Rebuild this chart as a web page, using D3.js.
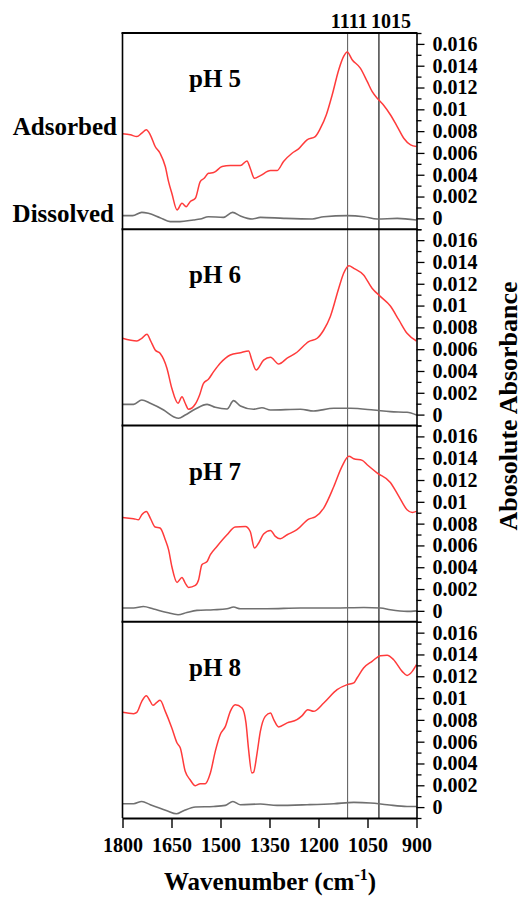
<!DOCTYPE html>
<html><head><meta charset="utf-8">
<script src="https://cdn.jsdelivr.net/npm/d3@7"></script>
<style>
body{margin:0;background:#fff}
svg{display:block}
text{font-family:"Liberation Serif","Times New Roman",serif;font-weight:bold;fill:#000}
</style>
</head><body>
<svg id="chart" width="524" height="897"></svg>
<script>
// ---------------- data ----------------
const panelLabels = ["pH 5", "pH 6", "pH 7", "pH 8"];
const seriesNames = ["Adsorbed", "Dissolved"];
const markerWavenumbers = [1111, 1015];
const xTickValues = [1800, 1650, 1500, 1350, 1200, 1050, 900];
const yTickValues = [0, 0.002, 0.004, 0.006, 0.008, 0.01, 0.012, 0.014, 0.016];
const yTickLabels = ["0", "0.002", "0.004", "0.006", "0.008", "0.01", "0.012", "0.014", "0.016"];
const yMinorTicks = [-0.001, 0.001, 0.003, 0.005, 0.007, 0.009, 0.011, 0.013, 0.015, 0.017];

// [wavenumber, absorbance]
const adsorbedPH5 = [[1800,0.00775],[1776,0.00766],[1756,0.0075],[1741,0.00781],[1727,0.00812],[1715,0.00766],[1700,0.00659],[1685,0.00597],[1669,0.00475],[1659,0.00337],[1649,0.0023],[1633,0.00077],[1618,0.00138],[1605,0.00107],[1593,0.00153],[1577,0.00184],[1562,0.00337],[1550,0.00367],[1537,0.00413],[1521,0.0042],[1495,0.00475],[1470,0.00484],[1439,0.00484],[1419,0.00527],[1409,0.00459],[1396,0.00367],[1378,0.00392],[1347,0.00438],[1327,0.00438],[1307,0.00521],[1281,0.00597],[1261,0.00637],[1235,0.0072],[1210,0.0075],[1194,0.00827],[1176,0.0095],[1158,0.01133],[1138,0.01363],[1123,0.01485],[1112,0.01525],[1097,0.01455],[1072,0.01378],[1051,0.01256],[1036,0.01164],[1016,0.01088],[1000,0.01035],[980,0.0095],[959,0.00842],[939,0.00735],[918,0.00674],[900,0.00659]];
const dissolvedPH5 = [[1800,0.00025],[1769,0.00025],[1741,0.00055],[1721,0.00046],[1685,0.00006],[1654,-0.0003],[1624,-0.0003],[1583,-0.00015],[1562,-0.00006],[1537,0.00015],[1491,0.00009],[1463,0.00055],[1439,0.00022],[1403,-0.00006],[1378,0.00009],[1306,0],[1219,-0.00006],[1184,0.00015],[1112,0.00025],[1061,0.00015],[1020,-0.00006],[959,0],[900,-0.00015]];

const adsorbedPH6 = [[1800,0.007],[1756,0.00675],[1741,0.007],[1725,0.00737],[1715,0.00684],[1700,0.00593],[1685,0.00562],[1664,0.00425],[1649,0.00241],[1630,0.00104],[1618,0.00164],[1608,0.00104],[1598,0.00049],[1577,0.00097],[1564,0.0018],[1552,0.00287],[1537,0.00324],[1521,0.00394],[1501,0.00471],[1470,0.00547],[1439,0.00568],[1414,0.00583],[1404,0.005],[1391,0.00409],[1368,0.005],[1347,0.00526],[1322,0.00464],[1296,0.00517],[1266,0.00572],[1230,0.00669],[1204,0.007],[1184,0.00776],[1164,0.00898],[1138,0.01159],[1123,0.01296],[1107,0.01366],[1092,0.01342],[1062,0.01281],[1036,0.01159],[1010,0.01082],[980,0.00996],[954,0.00868],[929,0.00746],[900,0.00675]];
const dissolvedPH6 = [[1800,0.00094],[1766,0.00094],[1741,0.00134],[1715,0.00104],[1674,0.00042],[1644,-0.00019],[1628,-0.00034],[1608,-0.00004],[1577,0.00051],[1541,0.00094],[1516,0.00067],[1480,0.00051],[1460,0.00128],[1439,0.00079],[1399,0.00049],[1373,0.00063],[1347,0.00042],[1255,0.00049],[1215,0.00033],[1153,0.00058],[1102,0.00058],[1031,0.00042],[980,0.00027],[929,0.00021],[900,-0.00004]];

const adsorbedPH7 = [[1800,0.00857],[1766,0.00845],[1751,0.00836],[1741,0.00882],[1727,0.00912],[1715,0.00851],[1700,0.00769],[1685,0.0076],[1669,0.00652],[1659,0.00561],[1649,0.00407],[1633,0.00261],[1618,0.00306],[1608,0.00255],[1598,0.00215],[1577,0.00233],[1567,0.00285],[1557,0.00423],[1541,0.00453],[1531,0.00515],[1511,0.00591],[1480,0.00698],[1455,0.00769],[1424,0.00774],[1409,0.00728],[1396,0.00576],[1383,0.00622],[1368,0.00705],[1347,0.00738],[1332,0.00683],[1317,0.00661],[1296,0.00698],[1266,0.00744],[1230,0.00842],[1210,0.00861],[1184,0.00943],[1153,0.01141],[1128,0.01325],[1107,0.01417],[1092,0.01395],[1066,0.0138],[1051,0.0134],[1020,0.01264],[980,0.01178],[954,0.0105],[929,0.00928],[913,0.00903],[900,0.00912]];
const dissolvedPH7 = [[1800,0.00026],[1766,0.00026],[1736,0.0004],[1705,0.00017],[1664,-0.00015],[1630,-0.00036],[1603,-0.00015],[1572,0.00004],[1521,0.0001],[1480,0.00019],[1460,0.00035],[1439,0.00019],[1358,0.00019],[1255,0.00026],[1153,0.00026],[1061,0.00031],[1010,0.00026],[980,0.0001],[929,-0.00005],[900,0]];

const adsorbedPH8 = [[1800,0.00869],[1766,0.00857],[1756,0.00869],[1741,0.0097],[1727,0.01022],[1715,0.0097],[1707,0.00933],[1695,0.00961],[1685,0.00979],[1669,0.00878],[1649,0.00726],[1633,0.00588],[1623,0.00542],[1608,0.00328],[1593,0.00251],[1577,0.00196],[1562,0.00215],[1547,0.00215],[1531,0.00313],[1516,0.00511],[1501,0.00664],[1485,0.0074],[1470,0.00878],[1455,0.00939],[1434,0.00909],[1422,0.00772],[1414,0.00527],[1404,0.00313],[1399,0.00318],[1388,0.00496],[1378,0.00694],[1363,0.00832],[1347,0.00863],[1337,0.00802],[1322,0.00735],[1296,0.00772],[1266,0.00802],[1250,0.00839],[1233,0.00894],[1215,0.00878],[1184,0.00955],[1143,0.01077],[1112,0.01123],[1092,0.01139],[1082,0.01184],[1062,0.01276],[1036,0.01337],[1010,0.01389],[990,0.01392],[970,0.01352],[944,0.01245],[929,0.01208],[913,0.01245],[900,0.01306]];
const dissolvedPH8 = [[1800,0.00031],[1766,0.00031],[1741,0.00052],[1715,0.00022],[1664,-0.00033],[1635,-0.00061],[1613,-0.00033],[1577,0.00001],[1521,0.00006],[1485,0.00016],[1462,0.00052],[1439,0.00022],[1378,0.00028],[1327,0.00016],[1235,0.00022],[1153,0.00031],[1092,0.00043],[1041,0.00038],[990,0.00022],[929,0.00006],[900,0.00006]];

const adsorbedSeries = [adsorbedPH5, adsorbedPH6, adsorbedPH7, adsorbedPH8];
const dissolvedSeries = [dissolvedPH5, dissolvedPH6, dissolvedPH7, dissolvedPH8];

// ---------------- layout ----------------
const svg = d3.select("#chart");
const plotLeft = 122.5, plotRight = 416.5, plotTop = 33, plotBottom = 818;
const panelH = (plotBottom - plotTop) / panelLabels.length;
const serif = '"Liberation Serif","Times New Roman",serif';

const x = d3.scaleLinear().domain([1800, 900]).range([plotLeft, plotRight]);
const yFor = i => d3.scaleLinear().domain([-0.001, 0.017]).range([plotTop + (i + 1) * panelH, plotTop + i * panelH]);

const redColor = "#ff3b3b", grayColor = "#707070";

// marker vertical lines (behind curves)
svg.selectAll("line.marker").data(markerWavenumbers).join("line")
  .attr("class", "marker")
  .attr("x1", d => x(d)).attr("x2", d => x(d))
  .attr("y1", plotTop).attr("y2", plotBottom)
  .attr("stroke", (d, i) => i === 0 ? "#666" : "#000")
  .attr("stroke-width", 1.1);

// marker labels
svg.append("text").attr("x", x(markerWavenumbers[0]) + 20).attr("y", 28)
  .attr("text-anchor", "end").attr("font-size", 20).text(String(markerWavenumbers[0]));
svg.append("text").attr("x", x(markerWavenumbers[1]) - 8).attr("y", 28)
  .attr("text-anchor", "start").attr("font-size", 20).text(String(markerWavenumbers[1]));

panelLabels.forEach((lab, i) => {
  const y = yFor(i);
  const g = svg.append("g");
  const line = d3.line().x(d => x(d[0])).y(d => y(d[1])).curve(d3.curveMonotoneX);

  g.append("path").datum(dissolvedSeries[i]).attr("d", line)
    .attr("fill", "none").attr("stroke", grayColor).attr("stroke-width", 1.6);
  g.append("path").datum(adsorbedSeries[i]).attr("d", line)
    .attr("fill", "none").attr("stroke", redColor).attr("stroke-width", 1.5);

  // right axis
  const axis = d3.axisRight(y).tickValues(yTickValues)
    .tickFormat((d, k) => yTickLabels[k]).tickSize(8).tickSizeOuter(0).tickPadding(8);
  const ag = g.append("g").attr("transform", `translate(${plotRight},0)`).call(axis);
  ag.select(".domain").attr("stroke", "#000").attr("stroke-width", 1.6);
  ag.selectAll(".tick line").attr("stroke", "#000").attr("stroke-width", 1.3);
  ag.selectAll("text").attr("font-size", 20).attr("font-family", serif).attr("font-weight", "bold").attr("fill", "#000");
  const minor = d3.axisRight(y).tickValues(yMinorTicks).tickFormat("").tickSize(5).tickSizeOuter(0);
  const mg = g.append("g").attr("transform", `translate(${plotRight},0)`).call(minor);
  mg.select(".domain").remove();
  mg.selectAll(".tick line").attr("stroke", "#000").attr("stroke-width", 1.3);

  // panel frame: left line and top line
  g.append("line").attr("x1", plotLeft).attr("x2", plotLeft)
    .attr("y1", y.range()[1]).attr("y2", y.range()[0])
    .attr("stroke", "#000").attr("stroke-width", 1.6);
  g.append("line").attr("x1", plotLeft - 1).attr("x2", plotRight + 1)
    .attr("y1", y.range()[1]).attr("y2", y.range()[1])
    .attr("stroke", "#000").attr("stroke-width", 2);

  // panel label
  g.append("text").attr("x", 189).attr("y", y.range()[1] + 54)
    .attr("font-size", 25).text(lab);
});

// bottom axis
const xAxis = d3.axisBottom(x).tickValues(xTickValues).tickFormat(d3.format("d"))
  .tickSize(10).tickSizeOuter(0).tickPadding(10);
const xg = svg.append("g").attr("transform", `translate(0,${plotBottom})`).call(xAxis);
xg.select(".domain").attr("stroke", "#000").attr("stroke-width", 2);
xg.selectAll(".tick line").attr("stroke", "#000").attr("stroke-width", 1.4);
xg.selectAll("text").attr("font-size", 20).attr("font-family", serif).attr("font-weight", "bold").attr("fill", "#000");

// series labels on the left (panel 1)
svg.append("text").attr("x", 117).attr("y", 135).attr("text-anchor", "end")
  .attr("font-size", 25).text(seriesNames[0]);
svg.append("text").attr("x", 114).attr("y", 222).attr("text-anchor", "end")
  .attr("font-size", 25).text(seriesNames[1]);

// x title
const xt = svg.append("text").attr("x", 270).attr("y", 890).attr("text-anchor", "middle").attr("font-size", 25);
xt.append("tspan").text("Wavenumber (cm");
xt.append("tspan").attr("font-size", 16).attr("dy", -10).text("-1");
xt.append("tspan").attr("dy", 10).text(")");

// y title
svg.append("text").attr("transform", "translate(517,406) rotate(-90)")
  .attr("text-anchor", "middle").attr("font-size", 26).text("Abosolute Absorbance");
</script>
</body></html>
